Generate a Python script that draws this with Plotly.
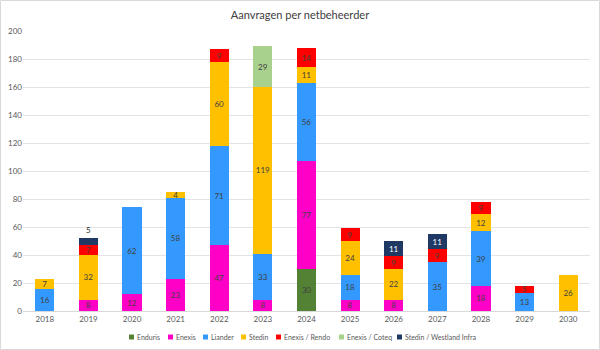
import plotly.graph_objects as go

years = ["2018", "2019", "2020", "2021", "2022", "2023", "2024",
         "2025", "2026", "2027", "2028", "2029", "2030"]

enduris  = [None, None, None, None, None, None, 30, None, None, None, None, None, None]
enexis   = [None, 8, 12, 23, 47, 8, 77, 8, 8, None, 18, None, None]
liander  = [16, None, 62, 58, 71, 33, 56, 18, None, 35, 39, 13, None]
stedin   = [7, 32, None, 4, 60, 119, 11, 24, 22, None, 12, None, 26]
rendo    = [None, 7, None, None, 9, None, 14, 9, 9, 9, 9, 5, None]
coteq    = [None, None, None, None, None, 29, None, None, None, None, None, None, None]
westland = [None, 5, None, None, None, None, None, None, 11, 11, None, None, None]

names = ["Enduris", "Enexis", "Liander", "Stedin", "Enexis / Rendo",
         "Enexis / Coteq", "Stedin / Westland Infra"]
values = [enduris, enexis, liander, stedin, rendo, coteq, westland]

colors = ["#548235", "#FF00C6", "#3399FF", "#FFC000", "#FF0000", "#A9D18E", "#203864"]
label_colors = ["#404040"] * 6 + ["#FFFFFF"]

W, H = 600, 350
l, r, t, b = 23, 10, 31, 39
pw, ph = W - l - r, H - t - b

fig = go.Figure()
for name, vals, color, tcol in zip(names, values, colors, label_colors):
    tcolors = [tcol] * len(vals)
    tpos = ["inside"] * len(vals)
    if name == "Stedin / Westland Infra":
        tcolors[1] = "#262626"
        tpos[1] = "outside"
    fig.add_trace(go.Bar(
        x=years, y=vals, name=name,
        marker=dict(color=color, line=dict(width=0)),
        text=[("" if v is None else str(v)) for v in vals],
        textposition=tpos, insidetextanchor="middle",
        textfont=dict(size=8, color=tcolors, family="Lato"),
        outsidetextfont=dict(size=8, color="#262626", family="Lato"),
        textangle=0, cliponaxis=False, showlegend=False,
    ))

# custom legend (small squares like the original)
legend_px = [129, 168, 203, 241, 276, 339, 397]  # left x of each marker, pixels
legend_py = 337
sq = 5
shapes = []
annotations = []
for name, color, px in zip(names, colors, legend_px):
    shapes.append(dict(type="rect", xref="paper", yref="paper",
                       x0=(px - l) / pw, x1=(px + sq - l) / pw,
                       y0=(H - b - (legend_py + sq / 2)) / ph,
                       y1=(H - b - (legend_py - sq / 2)) / ph,
                       fillcolor=color, line=dict(width=0)))
    annotations.append(dict(xref="paper", yref="paper",
                            x=(px + sq + 1 - l) / pw, xanchor="left",
                            y=(H - b - legend_py) / ph, yanchor="middle",
                            text=name, showarrow=False,
                            font=dict(size=7, color="#595959", family="Lato")))

shapes.append(dict(type="rect", xref="paper", yref="paper",
                   x0=(-l + 0.5) / pw, x1=1 + (r - 0.5) / pw,
                   y0=(-b + 0.5) / ph, y1=1 + (t - 0.5) / ph,
                   line=dict(color="#D9D9D9", width=1), layer="below"))

fig.update_layout(
    width=W, height=H, barmode="stack", bargap=0.56,
    margin=dict(l=l, r=r, t=t, b=b, autoexpand=False),
    paper_bgcolor="white", plot_bgcolor="white",
    font=dict(family="Lato", size=8, color="#595959"),
    uniformtext=dict(minsize=8, mode="show"),
    showlegend=False,
    title=dict(text="Aanvragen per netbeheerder", x=0.5, xanchor="center",
               y=1 - 15 / H, yanchor="middle",
               font=dict(size=11, color="#404040", family="Lato")),
    xaxis=dict(showgrid=False, showline=True, linecolor="#D9D9D9", linewidth=1,
               ticks="", tickfont=dict(size=8, color="#595959"), automargin=False),
    yaxis=dict(range=[0, 200], dtick=20, showgrid=True, gridcolor="#E4E4E4",
               gridwidth=1, zeroline=False, ticks="", showline=False,
               tickfont=dict(size=8, color="#595959"), automargin=False),
    shapes=shapes,
    annotations=annotations,
)

fig.write_html("out.html")
